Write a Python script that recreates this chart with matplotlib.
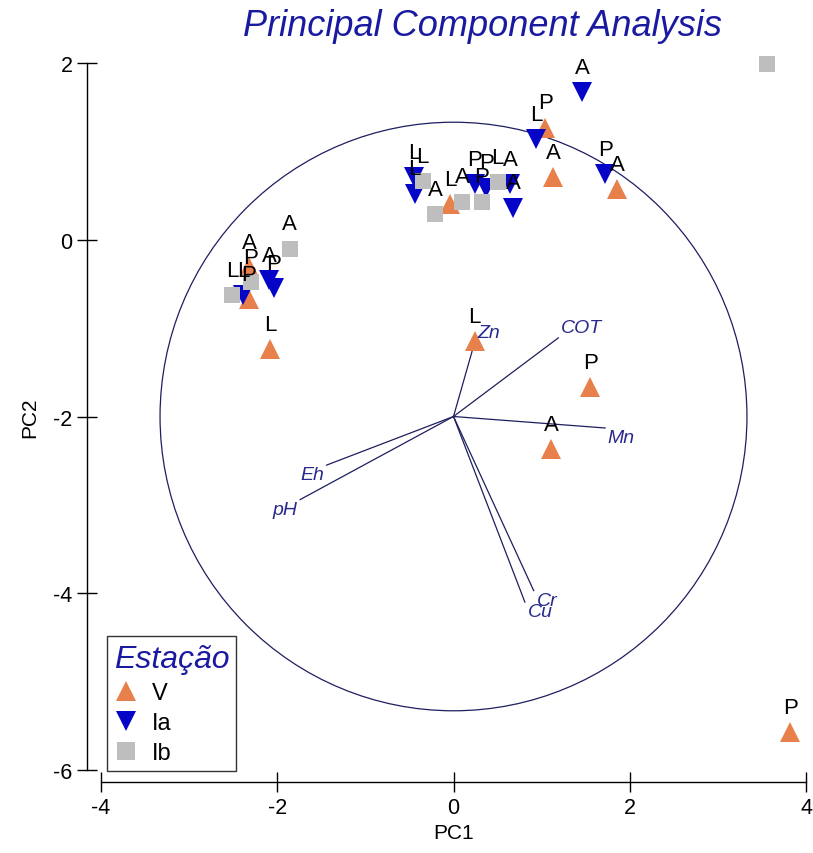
import matplotlib
matplotlib.use("Agg")
import matplotlib.pyplot as plt
from matplotlib.patches import Circle
from matplotlib.lines import Line2D

plt.rcParams['font.family'] = ['Liberation Sans', 'DejaVu Sans']
plt.rcParams['axes.unicode_minus'] = False

# ---- data ----
v_x = [3.82, 1.04, 1.13, 1.86, -2.08, 0.24, 1.55, 1.11, -2.32, -2.32, -0.04]
v_y = [-5.57, 1.27, 0.71, 0.57, -1.24, -1.15, -1.67, -2.37, -0.31, -0.67, 0.40]
v_lab = ['P', 'P', 'A', 'A', 'L', 'L', 'P', 'A', 'A', 'P', 'L']

ia_x = [1.46, 0.94, 1.72, 0.68, -2.09, -2.04, -2.39, -0.44, -0.45, 0.24, 0.37, 0.64]
ia_y = [1.67, 1.14, 0.74, 0.36, -0.46, -0.55, -0.63, 0.52, 0.71, 0.63, 0.59, 0.63]
ia_lab = ['A', 'L', 'P', 'A', 'A', 'P', 'L', 'L', 'L', 'P', 'P', 'A']

ib_x = [3.56, -1.86, -2.30, -2.51, -0.35, -0.21, 0.10, 0.32, 0.50]
ib_y = [1.99, -0.10, -0.48, -0.63, 0.66, 0.29, 0.43, 0.43, 0.65]
ib_lab = ['', 'A', 'P', 'L', 'L', 'A', 'A', 'P', 'L']

var_names = ['Zn', 'COT', 'Mn', 'Eh', 'pH', 'Cr', 'Cu']
var_dx = [0.24, 1.19, 1.72, -1.44, -1.74, 0.91, 0.81]
var_dy = [0.84, 0.89, -0.13, -0.55, -0.94, -1.97, -2.10]
origin = (0.0, -2.0)
circle_r = 3.33

groups = ['V', 'Ia', 'Ib']
x_ticks = [-4, -2, 0, 2, 4]
y_ticks = [-6, -4, -2, 0, 2]

# ---- style ----
c_v = '#E8804C'
c_ia = '#0505C8'
c_ib = '#BEBEBE'
navy = '#1E1E60'
lblue = '#2A2A8C'
tblue = '#1A1AA0'

fig = plt.figure(figsize=(8.13, 8.54), dpi=100)
ax = fig.add_axes([101/813, 83/854, 705/813, 707/854])
ax.set_xlim(-4, 4)
ax.set_ylim(-6, 2)

# correlation circle and vectors
ax.add_patch(Circle(origin, circle_r, fill=False, edgecolor=navy, lw=0.9, zorder=1))
for n, dx, dy in zip(var_names, var_dx, var_dy):
    ax.plot([origin[0], origin[0] + dx], [origin[1], origin[1] + dy],
            color=navy, lw=0.9, zorder=2)
    ax.annotate(n, (origin[0] + dx, origin[1] + dy),
                xytext=(2 if dx > 0 else -2, 1 if dy > 0 else -1),
                textcoords='offset points',
                ha='left' if dx > 0 else 'right',
                va='bottom' if dy > 0 else 'top',
                color=lblue, style='italic', fontsize=14, zorder=6)

ms_tri = 14
ax.plot(v_x, v_y, linestyle='none', marker='^', markersize=ms_tri,
        color=c_v, markeredgewidth=0, zorder=3, clip_on=False)
ax.plot(ia_x, ia_y, linestyle='none', marker='v', markersize=ms_tri,
        color=c_ia, markeredgewidth=0, zorder=4, clip_on=False)
ax.plot(ib_x, ib_y, linestyle='none', marker='s', markersize=12,
        color=c_ib, markeredgewidth=0, zorder=5, clip_on=False)

for xs, ys, ls in [(v_x, v_y, v_lab), (ia_x, ia_y, ia_lab), (ib_x, ib_y, ib_lab)]:
    for x, y, l in zip(xs, ys, ls):
        if l:
            ax.annotate(l, (x, y), xytext=(0, 14), textcoords='offset points',
                        ha='center', va='baseline', fontsize=16, color='black',
                        zorder=7, annotation_clip=False)

# axes styling
for s in ['top', 'right']:
    ax.spines[s].set_visible(False)
ax.spines['left'].set_position(('outward', 10))
ax.spines['bottom'].set_position(('outward', 8.6))
ax.spines['left'].set_bounds(-6, 2)
ax.spines['bottom'].set_bounds(-4, 4)
for s in ['left', 'bottom']:
    ax.spines[s].set_linewidth(1.0)
ax.set_xticks(x_ticks)
ax.set_yticks(y_ticks)
ax.tick_params(direction='inout', length=15, width=1.0, labelsize=15.5, pad=3)
ax.set_xlabel('PC1', fontsize=15, labelpad=4)
ax.set_ylabel('PC2', fontsize=15, labelpad=10)

fig.text(482/813, 1 - 26/854, 'Principal Component Analysis', ha='center', va='center',
         fontsize=26, style='italic', color=tblue)

handles = [
    Line2D([], [], linestyle='none', marker='^', markersize=15, color=c_v, markeredgewidth=0),
    Line2D([], [], linestyle='none', marker='v', markersize=15, color=c_ia, markeredgewidth=0),
    Line2D([], [], linestyle='none', marker='s', markersize=13, color=c_ib, markeredgewidth=0),
]
leg = ax.legend(handles, groups, loc='lower left', bbox_to_anchor=(0.008, -0.002),
                title='Estação', fontsize=17, frameon=True, fancybox=False,
                edgecolor='black', handlelength=1.0, handletextpad=0.6,
                borderpad=0.3, labelspacing=0.35, borderaxespad=0)
leg.get_frame().set_linewidth(1.0)
leg.get_title().set_fontsize(23)
leg.get_title().set_style('italic')
leg.get_title().set_color(tblue)
leg._legend_box.align = 'left'
leg.set_zorder(10)

fig.savefig('out.png', dpi=100)
